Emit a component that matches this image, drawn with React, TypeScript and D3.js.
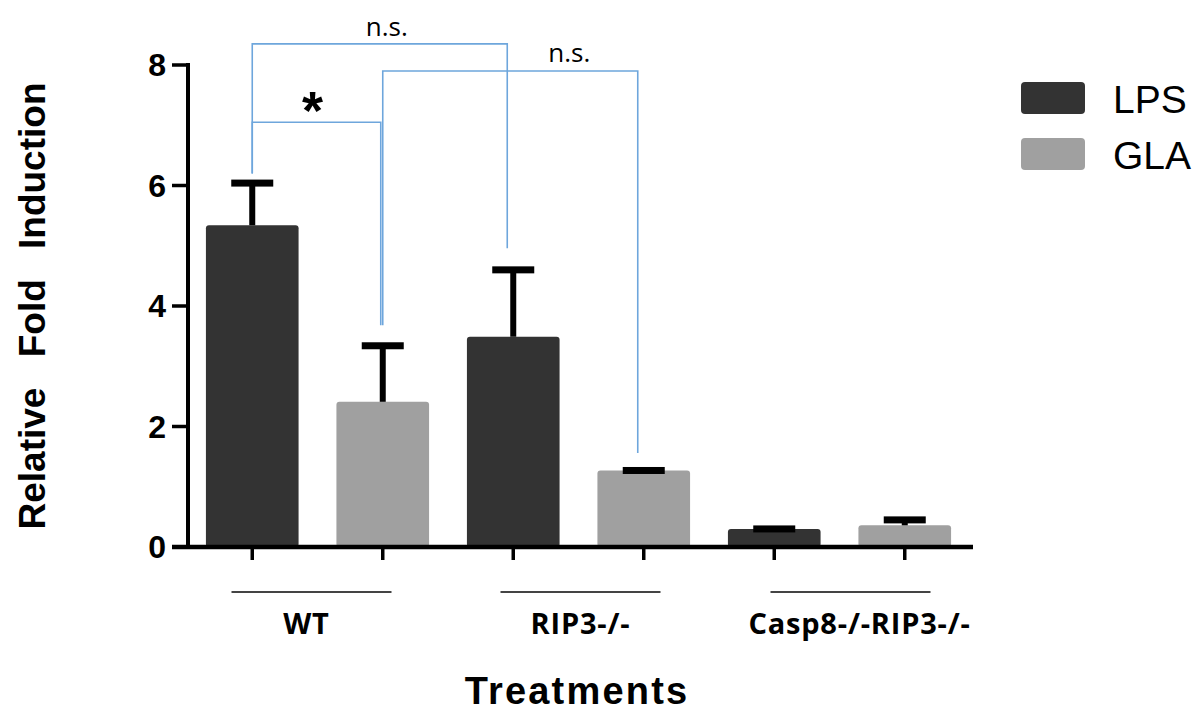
import React from "react";
import * as d3 from "d3";

const groups = ["WT", "RIP3-/-", "Casp8-/-RIP3-/-"];
const seriesNames = ["LPS", "GLA"];
const lpsValues = [5.34, 3.49, 0.3];
const lpsErrors = [0.7, 1.11, 0.0];
const glaValues = [2.41, 1.27, 0.36];
const glaErrors = [0.93, 0.0, 0.09];
const yTicks = [0, 2, 4, 6, 8];
const yLabel = "Relative Fold Induction";
const xLabel = "Treatments";

// significance comparisons: bar indices (group, series), bracket height and leg ends in data units
const comparisons = [
  { label: "n.s.", a: [0, "LPS"], b: [1, "LPS"], top: 8.35, endA: 6.2, endB: 4.96 },
  { label: "n.s.", a: [0, "GLA"], b: [1, "GLA"], top: 7.9, endA: 3.68, endB: 1.56 },
  { label: "*", a: [0, "LPS"], b: [0, "GLA"], top: 7.05, endA: 6.2, endB: 3.68 },
];

const colors: Record<string, string> = { LPS: "#333333", GLA: "#a0a0a0" };
const bracketColor = "#6ea6dc";
const arial = "'Liberation Sans', Arial, sans-serif";
const calibri = "'Open Sans', 'Noto Sans', sans-serif";

export default function App() {
  const W = 1200, H = 712;
  const x0 = 187, x1 = 970;
  const y = d3.scaleLinear().domain([0, 8]).range([547, 65]);
  const gx = d3.scaleBand<string>().domain(groups).range([x0, x1]).padding(0);
  const sx = d3.scaleBand<string>().domain(seriesNames).range([0, gx.bandwidth()]).paddingInner(0.29).paddingOuter(0.145);
  const bw = sx.bandwidth();
  const center = (gi: number, s: string) => (gx(groups[gi]) as number) + (sx(s) as number) + bw / 2;

  const bars: { g: number; s: string; v: number; e: number }[] = [];
  groups.forEach((_, i) => {
    bars.push({ g: i, s: "LPS", v: lpsValues[i], e: lpsErrors[i] });
    bars.push({ g: i, s: "GLA", v: glaValues[i], e: glaErrors[i] });
  });

  const labelDx = [-11, 2, 20];
  const lineDx = [-6, 2, 11];
  const bShift = -6;
  const sigLabelPos = [
    { dx: 7, dy: -8 },
    { dx: 59, dy: -9 },
    { dx: -4, dy: 7 },
  ];

  return (
    <svg width={W} height={H} style={{ position: "absolute", left: 0, top: 0, background: "#fff" }}>
      {/* y axis label */}
      <text
        transform={`translate(45,306) rotate(-90)`}
        textAnchor="middle"
        fontFamily={arial}
        fontWeight="bold"
        fontSize={37}
        wordSpacing={20}
        fill="#000"
      >
        {yLabel}
      </text>

      {/* bars */}
      {bars.map((b, i) => (
        <rect
          key={"bar" + i}
          x={center(b.g, b.s) - bw / 2}
          y={y(b.v)}
          width={bw}
          height={y(0) - y(b.v)}
          rx={3}
          fill={colors[b.s]}
        />
      ))}

      {/* error bars */}
      {bars.map((b, i) => {
        const cx = center(b.g, b.s);
        const top = y(b.v + b.e);
        return (
          <g key={"err" + i}>
            {b.e > 0 && <line x1={cx} x2={cx} y1={y(b.v)} y2={top} stroke="#000" strokeWidth={6} />}
            <rect x={cx - 21} y={top - 3.5} width={42} height={7} fill="#000" />
          </g>
        );
      })}

      {/* y axis */}
      <line x1={188} x2={188} y1={y(8) - 2} y2={y(0) + 2} stroke="#000" strokeWidth={4} />
      {yTicks.map((t) => (
        <g key={"yt" + t}>
          <line x1={172} x2={188} y1={y(t)} y2={y(t)} stroke="#000" strokeWidth={3.5} />
          <text x={166} y={y(t) + 11} textAnchor="end" fontFamily={arial} fontWeight="bold" fontSize={32} fill="#000">
            {t}
          </text>
        </g>
      ))}

      {/* x axis */}
      <line x1={172} x2={973} y1={y(0)} y2={y(0)} stroke="#000" strokeWidth={4.5} />
      {bars.map((b, i) => {
        const cx = center(b.g, b.s);
        return <line key={"xt" + i} x1={cx} x2={cx} y1={y(0)} y2={y(0) + 13} stroke="#000" strokeWidth={3.5} />;
      })}

      {/* group underlines and labels */}
      {groups.map((g, i) => {
        const c = (gx(g) as number) + gx.bandwidth() / 2;
        return (
          <g key={"grp" + i}>
            <line x1={c + lineDx[i] - 80} x2={c + lineDx[i] + 80} y1={592} y2={592} stroke="#444" strokeWidth={2} />
            <text
              x={c + labelDx[i]}
              y={634}
              textAnchor="middle"
              fontFamily={calibri}
              fontWeight="bold"
              fontSize={29}
              letterSpacing={0.8}
              fill="#000"
            >
              {g}
            </text>
          </g>
        );
      })}

      {/* x axis title */}
      <text x={577} y={704} textAnchor="middle" fontFamily={arial} fontWeight="bold" fontSize={38} letterSpacing={2.2} fill="#000">
        {xLabel}
      </text>

      {/* significance brackets */}
      {comparisons.map((c, i) => {
        const xa = center(c.a[0] as number, c.a[1] as string);
        const xb = center(c.b[0] as number, c.b[1] as string) + (c.b[1] === c.a[1] ? bShift : 0) + (c.label === "*" ? -2 : 0);
        const yt = y(c.top);
        const p = d3.path();
        p.moveTo(xa, y(c.endA));
        p.lineTo(xa, yt);
        p.lineTo(xb, yt);
        p.lineTo(xb, y(c.endB));
        const mid = (xa + xb) / 2;
        return (
          <g key={"sig" + i}>
            <path d={p.toString()} fill="none" stroke={bracketColor} strokeWidth={1.6} />
            {c.label === "*" ? (
              <text
                x={mid + sigLabelPos[i].dx}
                y={yt + sigLabelPos[i].dy}
                textAnchor="middle"
                fontFamily={arial}
                fontWeight="bold"
                fontSize={54}
                fill="#000"
              >
                {c.label}
              </text>
            ) : (
              <text
                x={mid + sigLabelPos[i].dx}
                y={yt + sigLabelPos[i].dy}
                textAnchor="middle"
                fontFamily={calibri}
                fontSize={26}
                fill="#000"
              >
                {c.label}
              </text>
            )}
          </g>
        );
      })}

      {/* legend */}
      {seriesNames.map((s, i) => (
        <g key={"leg" + s} transform={`translate(1021,${82 + i * 56})`}>
          <rect x={0} y={0} width={64} height={32} rx={4} fill={colors[s]} />
          <text x={92} y={31} fontFamily={arial} fontSize={39} fill="#000">
            {s}
          </text>
        </g>
      ))}
    </svg>
  );
}
